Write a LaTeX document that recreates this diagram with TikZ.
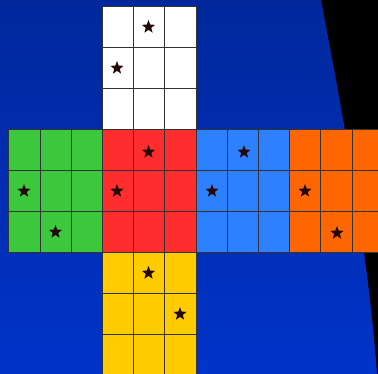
\documentclass[tikz,border=0pt]{standalone}
\usetikzlibrary{shapes.geometric}
\definecolor{bgtop}{HTML}{00289C}
\definecolor{bgbot}{HTML}{0033C8}
\definecolor{cwhite}{HTML}{FFFFFF}
\definecolor{cgreen}{HTML}{3CC83C}
\definecolor{cred}{HTML}{FF2D2D}
\definecolor{cblue}{HTML}{2D80FF}
\definecolor{corange}{HTML}{FF6600}
\definecolor{cyellow}{HTML}{FFCC00}
\definecolor{starcol}{HTML}{220808}
\tikzset{
  gridline/.style={draw=black!80, line width=0.75pt},
  starmark/.style={star, star points=5, star point ratio=2.4, minimum size=14pt, inner sep=0pt, fill=starcol, draw=none}
}
\newcommand{\face}[3]{% x0, y0, colour
  \fill[#3] (#1,#2) rectangle ++(93.6,123);
  \foreach \i in {1,2} {
    \draw[gridline] ({#1+31.2*\i},#2) -- ++(0,123);
    \draw[gridline] (#1,{#2+41*\i}) -- ++(93.6,0);
  }
  \draw[gridline] (#1,#2) rectangle ++(93.6,123);
}
\begin{document}
\begin{tikzpicture}[x=1pt,y=-1pt]
\useasboundingbox (0,0) rectangle (378,374);
\fill[black] (0,0) rectangle (378,374);
\shade[top color=bgtop, bottom color=bgbot] (0,0) -- (321,0) .. controls (342,110) and (368,250) .. (377,374) -- (0,374) -- cycle;
\face{102.4}{6}{cwhite}
\face{8.8}{129}{cgreen}
\face{102.4}{129}{cred}
\face{196}{129}{cblue}
\face{289.6}{129}{corange}
\face{102.4}{252}{cyellow}
% stars
\node[starmark] (w1) at (148.5,27) {};
\node[starmark] (w2) at (117,68) {};
\node[starmark] (r1) at (148.5,152) {};
\node[starmark] (r2) at (117,191) {};
\node[starmark] (g1) at (24,191) {};
\node[starmark] (g2) at (55.5,232) {};
\node[starmark] (b1) at (244,152) {};
\node[starmark] (b2) at (212,191) {};
\node[starmark] (o1) at (305,191) {};
\node[starmark] (o2) at (337,233) {};
\node[starmark] (y1) at (148.5,273) {};
\node[starmark] (y2) at (180,314) {};
\end{tikzpicture}
\end{document}
